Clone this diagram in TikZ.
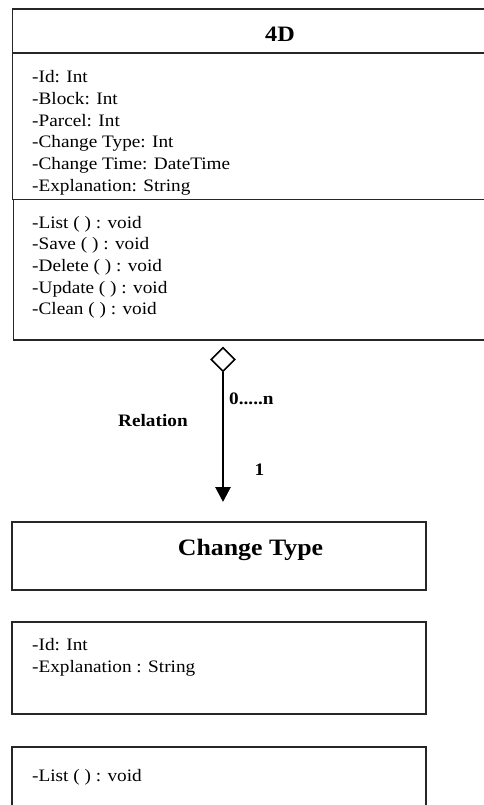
\documentclass[tikz,border=0pt]{standalone}
\usepackage{fontspec}
\setmainfont[FakeStretch=1.1]{Liberation Serif}
\usetikzlibrary{shapes.geometric,arrows.meta}

\begin{document}
\begin{tikzpicture}[x=1pt,y=-1pt,
  box/.style={draw=black!85,line width=1.2pt},
  txt/.style={anchor=base west,inner sep=0pt,font=\fontsize{17.5}{20}\selectfont},
  head/.style={anchor=base,inner sep=0pt,font=\bfseries\fontsize{22}{26}\selectfont},
  lbl/.style={anchor=base west,inner sep=0pt,font=\bfseries\fontsize{17.5}{20}\selectfont},
  agg/.style={diamond,draw=black,line width=1.6pt,fill=white,inner sep=0pt,
    minimum width=24pt,minimum height=24pt}
]
\useasboundingbox (0,0) rectangle (484,805);

% class 4D: header, attributes, operations
\draw[box] (12.5,9) rectangle (490,53);
\draw[box] (12.5,53) rectangle (490,199.5);
\draw[box] (13.5,199.5) rectangle (490,340);
\node[head] (t4d) at (280,42) {4D};
\foreach \t [count=\i] in {-Id: Int,-Block: Int,-Parcel: Int,-Change Type: Int,-Change Time: DateTime,-Explanation: String}
  \node[txt] (a\i) at (32,{83+21.6*(\i-1)}) {\t};
\foreach \t [count=\i] in {-List ( ) : void,-Save ( ) : void,-Delete ( ) : void,-Update ( ) : void,-Clean ( ) : void}
  \node[txt] (m\i) at (32,{228+21.7*(\i-1)}) {\t};

% association
\node[agg] (dia) at (223,359.5) {};
\coordinate (tip) at (223,502);
\draw[line width=2.8pt,-{Triangle[length=15pt,width=15pt]}] (dia.south) -- (tip);
\node[lbl] (mult) at (229,404) {0.....n};
\node[lbl] (rel) at (118,426) {Relation};
\node[lbl] (one) at (254.5,475.5) {1};

% class Change Type
\draw[box] (12,522) rectangle (426,590);
\node[head,font=\bfseries\fontsize{23.5}{28}\selectfont] (tct) at (250.5,555) {Change Type};
\draw[box] (12,622) rectangle (426,714);
\node[txt] (c1) at (32,650) {-Id: Int};
\node[txt] (c2) at (32,672) {-Explanation : String};
\draw[box] (12,747) rectangle (426,815);
\node[txt] (c3) at (32,781.5) {-List ( ) : void};
\end{tikzpicture}
\end{document}
